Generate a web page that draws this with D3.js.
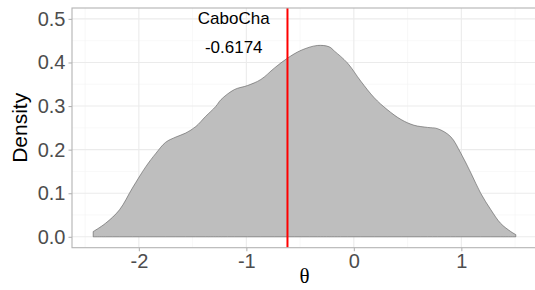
<!DOCTYPE html>
<html>
<head>
<meta charset="utf-8">
<script src="https://cdn.jsdelivr.net/npm/d3@7"></script>
<style>
  html, body { margin: 0; padding: 0; background: #fff; }
  svg { display: block; font-family: "Liberation Sans", Arial, sans-serif; }
</style>
</head>
<body>
<div id="chart"></div>
<script>
// density estimate of theta
const theta = [-2.425, -2.31, -2.18, -2.06, -1.935, -1.84, -1.75, -1.655, -1.565, -1.47, -1.38, -1.285, -1.235,
  -1.11, -0.99, -0.865, -0.74, -0.617, -0.49, -0.34, -0.23, -0.18, -0.06, 0.065, 0.19, 0.31, 0.44,
  0.56, 0.685, 0.78, 0.9, 0.995, 1.09, 1.18, 1.275, 1.365, 1.46, 1.507]
const density = [0.012, 0.031, 0.062, 0.112, 0.161, 0.192, 0.217, 0.229, 0.238, 0.253, 0.276, 0.299, 0.315,
  0.338, 0.347, 0.361, 0.387, 0.41, 0.428, 0.439, 0.436, 0.426, 0.399, 0.357, 0.319, 0.292, 0.269,
  0.256, 0.251, 0.248, 0.23, 0.192, 0.146, 0.1, 0.062, 0.031, 0.012, 0.005]

const xTicks = [-2, -1, 0, 1]
const yTicks = [0, 0.1, 0.2, 0.3, 0.4, 0.5]
const xMinor = [-2.5, -1.5, -0.5, 0.5, 1.5]
const yMinor = [0.05, 0.15, 0.25, 0.35, 0.45]

const cutoff = -0.6174
const cutoffLabel = 'CaboCha'

const width = 535
const height = 290
const panel = { left: 72, top: 8, right: 537, bottom: 247.7 }

const points = theta.map((t, i) => ({ t, d: density[i] }))

// R prints a plain hyphen, not the unicode minus d3 uses
const hyphen = f => v => f(v).replace('\u2212', '-')

const x = d3.scaleLinear().domain([-2.622, 1.704]).range([panel.left, panel.right])
const y = d3.scaleLinear().domain([-0.025, 0.525]).range([panel.bottom, panel.top])

const svg = d3.select('#chart').append('svg').attr('width', width).attr('height', height)

const clip = svg.append('clipPath').attr('id', 'panel-clip')
clip.append('rect')
  .attr('x', panel.left).attr('y', panel.top)
  .attr('width', panel.right - panel.left).attr('height', panel.bottom - panel.top)

const grid = svg.append('g')
grid.selectAll('.xminor').data(xMinor).join('line')
  .attr('x1', d => x(d)).attr('x2', d => x(d))
  .attr('y1', panel.top).attr('y2', panel.bottom)
  .attr('stroke', '#f3f3f3').attr('stroke-width', 0.6)
grid.selectAll('.yminor').data(yMinor).join('line')
  .attr('class', 'yminor')
  .attr('x1', panel.left).attr('x2', panel.right)
  .attr('y1', d => y(d)).attr('y2', d => y(d))
  .attr('stroke', '#f3f3f3').attr('stroke-width', 0.6)
grid.selectAll('.xmajor').data(xTicks).join('line')
  .attr('class', 'xmajor')
  .attr('x1', d => x(d)).attr('x2', d => x(d))
  .attr('y1', panel.top).attr('y2', panel.bottom)
  .attr('stroke', '#ebebeb').attr('stroke-width', 1.1)
grid.selectAll('.ymajor').data(yTicks).join('line')
  .attr('class', 'ymajor')
  .attr('x1', panel.left).attr('x2', panel.right)
  .attr('y1', d => y(d)).attr('y2', d => y(d))
  .attr('stroke', '#ebebeb').attr('stroke-width', 1.1)

// closed density outline (sides + baseline)
const area = d3.area()
  .x(d => x(d.t))
  .y0(y(0))
  .y1(d => y(d.d))
  .curve(d3.curveCatmullRom.alpha(0.5))

svg.append('path')
  .datum(points)
  .attr('clip-path', 'url(#panel-clip)')
  .attr('d', area)
  .attr('fill', '#bebebe')
  .attr('stroke', '#5a5a5a')
  .attr('stroke-width', 0.6)

svg.append('line')
  .attr('x1', x(cutoff)).attr('x2', x(cutoff))
  .attr('y1', panel.top).attr('y2', panel.bottom)
  .attr('stroke', '#ff0000').attr('stroke-width', 2)

svg.append('text')
  .attr('x', x(cutoff - 0.5)).attr('y', y(0.5))
  .attr('text-anchor', 'middle').attr('dominant-baseline', 'central')
  .style('font-size', '17px').attr('fill', '#000')
  .text(cutoffLabel)

svg.append('text')
  .attr('x', x(cutoff - 0.5)).attr('y', y(0.435))
  .attr('text-anchor', 'middle').attr('dominant-baseline', 'central')
  .style('font-size', '17px').attr('fill', '#000')
  .text(hyphen(d3.format('.4f'))(cutoff))

// panel border
svg.append('rect')
  .attr('x', panel.left).attr('y', panel.top)
  .attr('width', panel.right - panel.left).attr('height', panel.bottom - panel.top)
  .attr('fill', 'none').attr('stroke', '#b3b3b3').attr('stroke-width', 1.1)

const xAxis = svg.append('g')
  .attr('transform', `translate(0,${panel.bottom})`)
  .call(d3.axisBottom(x).tickValues(xTicks).tickSize(3.5).tickPadding(3).tickFormat(hyphen(d3.format('d'))))
xAxis.select('.domain').remove()
xAxis.selectAll('line').attr('stroke', '#b3b3b3').attr('stroke-width', 1.1)
xAxis.selectAll('text').attr('fill', '#4d4d4d').style('font-size', '20px').attr('font-family', null)

const yAxis = svg.append('g')
  .attr('transform', `translate(${panel.left},0)`)
  .call(d3.axisLeft(y).tickValues(yTicks).tickSize(3.5).tickPadding(3).tickFormat(d3.format('.1f')))
yAxis.select('.domain').remove()
yAxis.selectAll('line').attr('stroke', '#b3b3b3').attr('stroke-width', 1.1)
yAxis.selectAll('text').attr('fill', '#4d4d4d').style('font-size', '20px').attr('font-family', null)

svg.append('text')
  .attr('x', (panel.left + panel.right) / 2).attr('y', 283)
  .attr('text-anchor', 'middle')
  .style('font-family', '"Liberation Serif", "DejaVu Serif", serif')
  .style('font-size', '21px').attr('fill', '#000')
  .text('θ')

svg.append('text')
  .attr('transform', `translate(27,${(panel.top + panel.bottom) / 2}) rotate(-90)`)
  .attr('text-anchor', 'middle')
  .style('font-size', '21px').attr('fill', '#000')
  .text('Density')
</script>
</body>
</html>
